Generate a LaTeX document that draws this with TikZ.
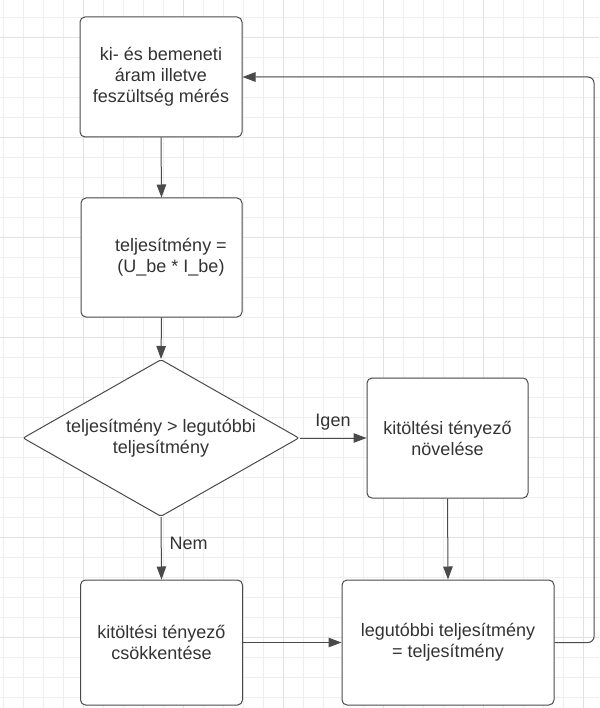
\documentclass[tikz,border=0pt]{standalone}
\usepackage{fontspec}
\setmainfont{Liberation Sans}
\usetikzlibrary{arrows.meta,shapes.geometric}
\definecolor{gridminor}{HTML}{EEEEEE}
\definecolor{gridmajor}{HTML}{E2E2E2}
\definecolor{stroke}{HTML}{4A4A4A}
\definecolor{txt}{HTML}{333333}
\tikzset{
  box/.style={draw=stroke, line width=1pt, rounded corners=5pt, fill=white,
    minimum width=162pt, minimum height=120pt, inner sep=0pt, align=center,
    text=txt, font=\fontsize{18pt}{21pt}\selectfont},
  decision/.style={draw=stroke, line width=1pt, diamond, aspect=1.76, fill=white,
    minimum width=276pt, minimum height=157pt, inner sep=0pt, align=center,
    text=txt, font=\fontsize{18pt}{21pt}\selectfont, rounded corners=2pt},
  conn/.style={draw=stroke, line width=1pt, -{Triangle[length=13pt,width=9.5pt]}},
  lbl/.style={text=txt, font=\fontsize{18pt}{21pt}\selectfont, inner sep=0pt}
}
\begin{document}
\begin{tikzpicture}[x=1pt,y=-1pt]
\useasboundingbox (0,0) rectangle (599,708);
\fill[white] (0,0) rectangle (599,708);
% grid
\foreach \x in {3,23,...,599} \draw[gridminor, line width=0.8pt] (\x,0) -- (\x,708);
\foreach \y in {-3,17,...,708} \draw[gridminor, line width=0.8pt] (0,\y) -- (599,\y);
\foreach \x in {83,183,...,599} \draw[gridmajor, line width=0.9pt] (\x,0) -- (\x,708);
\foreach \y in {37,137,...,708} \draw[gridmajor, line width=0.9pt] (0,\y) -- (599,\y);

\node[box] (meas) at (161,77) {ki- és bemeneti\\áram illetve\\feszültség mérés};
\node[box, minimum width=161pt, minimum height=119pt] (pow) at (161.5,257.5) {\hspace*{19pt}teljesítmény =\\\hspace*{19pt}(U\_be * I\_be)};
\node[decision] (dec) at (161,438) {teljesítmény > legutóbbi\\teljesítmény};
\node[box, minimum width=161pt] (inc) at (447.5,438) {kitöltési tényező\\növelése};
\node[box, minimum height=125pt] (dcr) at (161.5,642.5) {kitöltési tényező\\csökkentése};
\node[box, minimum width=212pt, minimum height=125pt] (upd) at (448,642.5) {legutóbbi teljesítmény\\= teljesítmény};

\coordinate (cr1) at (594,642.5);
\coordinate (cr2) at (594,77);

\draw[conn] (meas.south) -- (pow.north);
\draw[conn] (pow.south) -- (dec.north);
\draw[conn] (dec.east) -- (inc.west) node[lbl, pos=0.5, above=7pt] {Igen};
\draw[conn] (dec.south) -- (dcr.north) node[lbl, pos=0.42, right=8pt] {Nem};
\draw[conn] (inc.south) -- (upd.north);
\draw[conn] (dcr.east) -- (upd.west);
\draw[conn, rounded corners=6pt] (upd.east) -- (cr1) -- (cr2) -- (meas.east);
\end{tikzpicture}
\end{document}
